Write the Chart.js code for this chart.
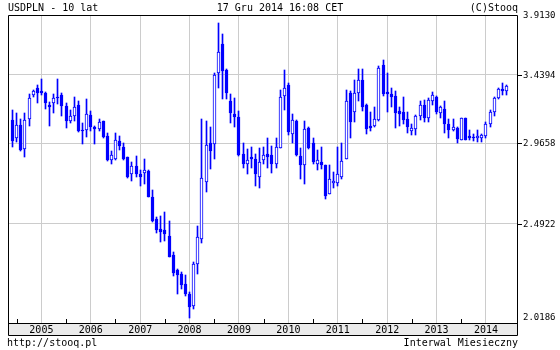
<!DOCTYPE html>
<html><head><meta charset="utf-8">
<script src="https://cdn.jsdelivr.net/npm/chart.js@4/dist/chart.umd.min.js"></script>
<style>html,body{margin:0;padding:0;background:#fff}#wrap{width:560px;height:350px;position:relative}</style>
</head><body><div id="wrap"><canvas id="c" width="560" height="350"></canvas></div>
<script>
// ---- texts ----
const titleLeft = 'USDPLN - 10 lat';
const titleCenter = '17 Gru 2014 16:08 CET';
const titleRight = '(C)Stooq';
const footerLeft = 'http://stooq.pl';
const footerRight = 'Interwal Miesieczny';

// ---- categories: monthly candles, Dec 2004 .. Dec 2014 ----
const firstYear = 2004, firstMonth = 12, monthCount = 121;
const months = [];
for (let i = 0; i < monthCount; i++) {
  const m = (firstMonth - 1 + i);
  months.push({ year: firstYear + Math.floor(m / 12), month: (m % 12) + 1 });
}

// ---- series (USDPLN monthly OHLC) ----
const open = [3.121,2.997,3.087,2.932,3.125,3.295,3.344,3.324,3.308,3.225,3.234,3.281,3.293,
3.218,3.114,3.143,3.225,3.054,3.054,3.153,3.074,3.058,3.114,3.014,2.859,
2.868,2.982,2.941,2.880,2.773,2.824,2.777,2.779,2.793,2.640,2.521,2.463,
2.457,2.430,2.330,2.256,2.237,2.188,2.144,2.086,2.286,2.413,2.729,2.967,
2.963,3.453,3.678,3.473,3.253,3.160,3.141,2.897,2.834,2.882,2.866,2.759,
2.859,2.901,2.892,2.838,2.939,3.288,3.361,3.027,3.114,2.886,2.830,3.065,
2.965,2.838,2.849,2.828,2.659,2.723,2.723,2.759,2.866,3.305,3.172,3.308,
3.397,3.222,3.081,3.076,3.118,3.510,3.312,3.300,3.288,3.183,3.172,3.125,
3.043,3.058,3.143,3.222,3.134,3.253,3.281,3.167,3.195,3.092,3.052,3.065,
2.988,3.130,3.014,3.005,2.997,3.003,3.010,3.092,3.172,3.272,3.337,3.320];
const high = [3.190,3.164,3.125,3.167,3.300,3.331,3.366,3.409,3.315,3.241,3.300,3.409,3.308,
3.236,3.190,3.281,3.253,3.096,3.265,3.183,3.081,3.125,3.114,3.036,2.918,
3.036,3.014,2.971,2.880,2.849,2.886,2.797,2.866,2.797,2.681,2.528,2.533,
2.555,2.506,2.347,2.261,2.245,2.231,2.152,2.294,2.479,3.125,3.114,3.069,
3.451,3.849,3.754,3.484,3.300,3.272,3.183,2.971,2.932,2.943,2.897,2.939,
2.943,3.003,2.950,3.003,3.329,3.473,3.377,3.160,3.118,2.935,3.114,3.069,
2.999,2.922,2.943,2.830,2.828,2.790,2.943,2.965,3.329,3.324,3.397,3.480,
3.484,3.229,3.172,3.206,3.504,3.554,3.453,3.341,3.324,3.211,3.276,3.176,
3.092,3.155,3.253,3.260,3.272,3.317,3.288,3.218,3.253,3.125,3.125,3.074,
3.134,3.134,3.052,3.025,3.052,3.025,3.103,3.188,3.281,3.344,3.380,3.361];
const low = [2.945,2.976,2.918,2.880,3.081,3.276,3.239,3.293,3.195,3.081,3.164,3.229,3.143,
3.063,3.096,3.114,3.041,2.963,3.007,3.047,2.963,3.047,3.000,2.855,2.838,
2.861,2.924,2.864,2.753,2.737,2.757,2.704,2.717,2.640,2.501,2.443,2.399,
2.402,2.318,2.227,2.144,2.167,2.133,2.034,2.073,2.235,2.390,2.671,2.803,
2.870,3.341,3.265,3.265,3.096,3.074,2.886,2.810,2.777,2.814,2.704,2.694,
2.834,2.814,2.783,2.810,2.935,3.188,3.020,2.965,2.886,2.743,2.717,2.928,
2.834,2.797,2.803,2.632,2.659,2.694,2.704,2.743,2.866,3.003,3.103,3.253,
3.183,3.025,3.047,3.069,3.114,3.288,3.172,3.211,3.063,3.081,3.092,3.036,
3.020,3.018,3.121,3.103,3.103,3.225,3.160,3.134,3.036,2.997,3.047,2.965,
2.986,2.986,2.988,2.978,2.976,2.976,3.003,3.074,3.148,3.265,3.295,3.295];
const close = [2.978,3.087,2.922,3.121,3.272,3.324,3.305,3.305,3.234,3.206,3.272,3.269,3.213,
3.114,3.148,3.211,3.047,3.043,3.160,3.069,3.056,3.107,3.005,2.861,2.890,
2.986,2.950,2.868,2.757,2.824,2.777,2.758,2.799,2.640,2.506,2.461,2.448,
2.436,2.318,2.240,2.231,2.183,2.144,2.083,2.286,2.421,2.749,2.956,2.918,
3.434,3.609,3.464,3.305,3.164,3.141,2.892,2.838,2.859,2.868,2.773,2.849,
2.892,2.882,2.838,2.943,3.281,3.341,3.042,3.118,2.892,2.830,3.058,2.939,
2.851,2.859,2.830,2.646,2.743,2.737,2.773,2.855,3.253,3.103,3.308,3.402,
3.206,3.058,3.067,3.125,3.487,3.300,3.300,3.276,3.164,3.160,3.121,3.069,
3.065,3.143,3.222,3.134,3.258,3.293,3.172,3.206,3.092,3.052,3.074,2.993,
3.130,2.988,2.997,2.997,3.014,3.018,3.092,3.176,3.272,3.337,3.320,3.354];

// ---- tick labels ----
const yearLabels = ['2005','2006','2007','2008','2009','2010','2011','2012','2013','2014'];
const yearValues = [2005,2006,2007,2008,2009,2010,2011,2012,2013,2014];
const yTickValues = [3.9130, 3.4394, 2.9658, 2.4922, 2.0186];

// ---- styles ----
const BLUE = '#0000ff';
const GRID = '#cccccc';
const MONO = '"DejaVu Sans Mono", "Liberation Mono", monospace';

const xPos = months.map(d => d.year + (d.month - 1) / 12);
const bodies = months.map((d, i) => ({ x: xPos[i], y: [open[i], close[i]] }));
const wicks = months.map((d, i) => ({ x: xPos[i], y: [low[i], high[i]] }));
const bodyFill = months.map((d, i) => close[i] >= open[i] ? '#ffffff' : BLUE);

// snap bar elements (positions come from the scales) to whole pixels for crisp candles
const crisp = {
  id: 'crisp',
  afterDatasetsUpdate(chart) {
    chart.data.datasets.forEach((ds, di) => {
      const meta = chart.getDatasetMeta(di);
      meta.data.forEach(el => {
        el.x = Math.floor(el.x) + 0.5;
        el.y = Math.round(el.y);
        el.base = Math.round(el.base);
        if (el.y === el.base) el.base = el.y + 1;
      });
    });
  }
};

const decor = {
  id: 'decor',
  beforeDraw(chart) {
    const c = chart.ctx, a = chart.chartArea;
    c.save();
    c.fillStyle = '#ffffff';
    c.fillRect(0, 0, chart.width, chart.height);
    const xs = chart.scales.x;
    c.fillStyle = '#ebebeb';
    c.fillRect(a.left, a.bottom, a.right - a.left, xs.bottom - a.bottom);
    c.restore();
  },
  afterDraw(chart) {
    const c = chart.ctx, a = chart.chartArea;
    const xs = chart.scales.x, ys = chart.scales.y;
    c.save();
    c.strokeStyle = '#000';
    c.lineWidth = 1;
    c.beginPath();
    c.moveTo(a.left + 0.5, xs.bottom + 0.5);
    c.lineTo(a.left + 0.5, a.top + 0.5);
    c.lineTo(a.right + 0.5, a.top + 0.5);
    c.lineTo(a.right + 0.5, xs.bottom + 0.5);
    c.lineTo(a.left + 0.5, xs.bottom + 0.5);
    c.moveTo(a.left, a.bottom + 0.5);
    c.lineTo(a.right + 1, a.bottom + 0.5);
    yearValues.forEach(v => {
      const px = Math.round(xs.getPixelForValue(v)) + 0.5;
      c.moveTo(px, a.bottom - 4);
      c.lineTo(px, a.bottom);
    });
    yTickValues.forEach((v, i) => {
      if (i === 0 || i === yTickValues.length - 1) return;
      const py = Math.round(ys.getPixelForValue(v)) + 0.5;
      c.moveTo(a.right + 1, py);
      c.lineTo(a.right + 5, py);
    });
    c.stroke();

    c.fillStyle = '#000';
    c.font = '10px ' + MONO;
    c.textAlign = 'center';
    c.textBaseline = 'alphabetic';
    yearValues.forEach((v, i) => {
      const px = xs.getPixelForValue(v + 0.5);
      c.fillText(yearLabels[i], px, a.bottom + 10);
    });
    c.font = '9px ' + MONO;
    c.textAlign = 'left';
    c.textBaseline = 'middle';
    yTickValues.forEach(v => {
      let py = ys.getPixelForValue(v);
      py = Math.min(py, a.bottom - 6);
      c.fillText(v.toFixed(4), a.right + 6, py + 0.5);
    });
    c.font = '10px ' + MONO;
    c.textBaseline = 'alphabetic';
    c.textAlign = 'left';
    c.fillText(titleLeft, 8, 11);
    c.textAlign = 'center';
    c.fillText(titleCenter, 280, 11);
    c.textAlign = 'right';
    c.fillText(titleRight, a.right + 1, 11);
    c.textAlign = 'left';
    c.fillText(footerLeft, 7, 346);
    c.textAlign = 'right';
    c.fillText(footerRight, a.right + 1, 346);
    c.restore();
  }
};

new Chart(document.getElementById('c'), {
  type: 'bar',
  data: {
    datasets: [
      { label: 'body', data: bodies, backgroundColor: bodyFill, borderColor: BLUE,
        borderWidth: 1, borderSkipped: false, barThickness: 3, grouped: false, order: 0 },
      { label: 'wick', data: wicks, backgroundColor: BLUE, borderWidth: 0,
        barThickness: 1, grouped: false, order: 1 }
    ]
  },
  options: {
    responsive: false,
    animation: false,
    events: [],
    layout: { padding: { left: 8, top: 15, right: 0, bottom: 15 } },
    plugins: { legend: { display: false }, tooltip: { enabled: false }, title: { display: false } },
    scales: {
      x: {
        type: 'linear', offset: false, min: 2004.824, max: 2015.128,
        grid: { color: GRID, lineWidth: 1, drawTicks: false },
        border: { display: false },
        ticks: { display: false },
        afterBuildTicks: s => { s.ticks = yearValues.map(v => ({ value: v })); },
        afterFit: s => { s.height = 12; }
      },
      y: {
        type: 'logarithmic', position: 'right', min: 2.012, max: 3.913,
        grid: { color: ctx => (ctx.index === 0 || ctx.index === yTickValues.length - 1) ? 'rgba(0,0,0,0)' : GRID,
                lineWidth: 1, drawTicks: false },
        border: { display: false },
        ticks: { display: false },
        afterBuildTicks: s => { s.ticks = yTickValues.map(v => ({ value: v })); },
        afterFit: s => { s.width = 43; }
      }
    }
  },
  plugins: [crisp, decor]
});
</script>
</body></html>
